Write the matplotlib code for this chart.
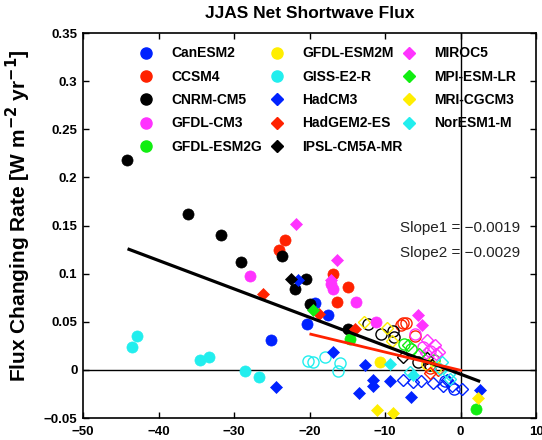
import matplotlib
matplotlib.use("Agg")
import matplotlib.pyplot as plt
from matplotlib.lines import Line2D
import numpy as np

plt.rcParams['font.family'] = ['Liberation Sans', 'DejaVu Sans']

# ---------------- data ----------------
models = ['CanESM2', 'CCSM4', 'CNRM-CM5', 'GFDL-CM3', 'GFDL-ESM2G',
          'GFDL-ESM2M', 'GISS-E2-R', 'HadCM3', 'HadGEM2-ES', 'IPSL-CM5A-MR',
          'MIROC5', 'MPI-ESM-LR', 'MRI-CGCM3', 'NorESM1-M']
colors = ['#0022ff', '#ff2200', '#000000', '#ff33ff', '#11ee11',
          '#ffee00', '#22eeee', '#0022ff', '#ff2200', '#000000',
          '#ff33ff', '#11ee11', '#ffee00', '#22eeee']
markers = ['o', 'o', 'o', 'o', 'o', 'o', 'o',
           'D', 'D', 'D', 'D', 'D', 'D', 'D']

# filled symbols (first set)
canesm2_filled = [(-25.1, 0.031), (-19.3, 0.069), (-17.5, 0.057), (-20.3, 0.048)]
ccsm4_filled = [(-23.25, 0.135), (-24.0, 0.125), (-16.85, 0.100), (-14.9, 0.086), (-16.3, 0.071)]
cnrm_filled = [(-44.2, 0.218), (-36.05, 0.1615), (-31.7, 0.140), (-29.1, 0.112), (-23.6, 0.1185),
               (-20.5, 0.094), (-21.9, 0.084), (-19.9, 0.068), (-14.9, 0.042)]
gfdlcm3_filled = [(-27.9, 0.098), (-16.9, 0.084), (-13.8, 0.071), (-11.2, 0.050), (-17.1, 0.089)]
gfdlesm2g_filled = [(-14.7, 0.032), (2.1, -0.041)]
gfdlesm2m_filled = [(-10.7, 0.008)]
giss_filled = [(-43.55, 0.024), (-42.9, 0.035), (-34.5, 0.0105), (-33.3, 0.0135),
               (-28.5, -0.0007), (-26.65, -0.007)]
hadcm3_filled = [(-24.4, -0.018), (-21.5, 0.093), (-16.85, 0.019), (-12.65, 0.005), (-11.6, -0.010),
                 (-11.55, -0.017), (-13.4, -0.024), (-9.35, -0.012), (-6.5, -0.028), (2.6, -0.021)]
hadgem2_filled = [(-26.2, 0.079), (-18.8, 0.058), (-14.0, 0.042)]
ipsl_filled = [(-22.4, 0.094)]
miroc5_filled = [(-21.8, 0.152), (-16.4, 0.114), (-17.2, 0.093), (-5.6, 0.057), (-5.15, 0.047)]
mpi_filled = [(-19.6, 0.062)]
mri_filled = [(-11.0, -0.0415), (-8.9, -0.0445), (2.35, -0.0295)]
noresm_filled = [(-9.35, 0.006), (-6.25, -0.005)]

# open symbols (second set)
canesm2_open = [(-0.8, -0.020), (-2.0, -0.012)]
ccsm4_open = [(-7.9, 0.047), (-7.6, 0.049), (-7.2, 0.049), (-6.0, 0.035), (-4.0, 0.002)]
cnrm_open = [(-12.3, 0.048), (-10.5, 0.037), (-8.9, 0.040), (-8.8, 0.034), (-5.6, 0.008), (-4.0, 0.005)]
gfdlcm3_open = [(-6.0, 0.037), (-5.0, 0.024), (-4.0, 0.020)]
gfdlesm2g_open = [(-7.5, 0.027), (-6.5, 0.022), (-3.5, 0.010)]
gfdlesm2m_open = [(-4.5, 0.006), (-3.3, 0.003)]
giss_open = [(-20.15, 0.0097), (-19.5, 0.0085), (-17.95, 0.0138), (-16.0, 0.007), (-16.2, -0.0007)]
hadcm3_open = [(-7.6, -0.0105), (-6.3, -0.013), (-5.2, -0.012), (-3.6, -0.014), (-2.3, -0.017),
               (-1.1, -0.017), (0.2, -0.020), (-1.8, -0.010)]
hadgem2_open = [(-4.0, -0.0035), (-3.0, 0.000)]
ipsl_open = [(-7.6, 0.013), (-4.5, 0.012)]
miroc5_open = [(-4.5, 0.0315), (-3.4, 0.026), (-2.8, 0.019), (-4.6, 0.018), (-3.2, 0.017)]
mpi_open = [(-7.0, 0.026), (-5.5, 0.016)]
mri_open = [(-12.8, 0.050), (-9.8, 0.044), (-9.1, 0.030)]
noresm_open = [(-2.7, 0.001), (-1.4, -0.009), (-2.5, 0.008), (-1.5, -0.004), (-6.7, -0.002)]

filled_sets = [canesm2_filled, ccsm4_filled, cnrm_filled, gfdlcm3_filled, gfdlesm2g_filled,
               gfdlesm2m_filled, giss_filled, hadcm3_filled, hadgem2_filled, ipsl_filled,
               miroc5_filled, mpi_filled, mri_filled, noresm_filled]
open_sets = [canesm2_open, ccsm4_open, cnrm_open, gfdlcm3_open, gfdlesm2g_open,
             gfdlesm2m_open, giss_open, hadcm3_open, hadgem2_open, ipsl_open,
             miroc5_open, mpi_open, mri_open, noresm_open]

# regression lines (endpoints)
fit2_x = [-44.1, 2.6]
fit2_y = [0.1258, -0.0121]
fit1_x = [-20.0, 0.2]
fit1_y = [0.0374, -0.0008]
slope_labels = ['Slope1 = \u22120.0019', 'Slope2 = \u22120.0029']
slope_pos_x = [-8.0, -8.0]
slope_pos_y = [0.1476, 0.1216]

xticks = [-50, -40, -30, -20, -10, 0, 10]
yticks = [-0.05, 0, 0.05, 0.1, 0.15, 0.2, 0.25, 0.3, 0.35]

# ---------------- plot ----------------
fig = plt.figure(figsize=(5.42, 4.40), dpi=100)
ax = fig.add_axes([83 / 542, 22 / 440, 453 / 542, 385 / 440])

ax.axhline(0, color='black', lw=1.0, zorder=1)
ax.axvline(0, color='black', lw=1.0, zorder=1)

ms_o = 8.0
ms_d = 6.0
for pts, c, m in zip(open_sets, colors, markers):
    if pts:
        xs, ys = zip(*pts)
        ax.plot(xs, ys, ls='none', marker=m, ms=ms_o if m == 'o' else ms_d,
                mfc='none', mec=c, mew=1.0, zorder=2)
for pts, c, m in zip(filled_sets, colors, markers):
    if pts:
        xs, ys = zip(*pts)
        ax.plot(xs, ys, ls='none', marker=m, ms=ms_o if m == 'o' else ms_d,
                mfc=c, mec=c, mew=0.5, zorder=3)

ax.plot(fit2_x, fit2_y, color='black', lw=2.3, zorder=4, solid_capstyle='butt')
ax.plot(fit1_x, fit1_y, color='#ff2200', lw=2.0, zorder=4, solid_capstyle='butt')

for t, x, y in zip(slope_labels, slope_pos_x, slope_pos_y):
    ax.text(x, y, t, ha='left', va='center', fontsize=11, color='#222222', zorder=5)

ax.set_xlim(-50, 10)
ax.set_ylim(-0.05, 0.35)
ax.set_xticks(xticks)
ax.set_yticks(yticks)
ax.set_xticklabels([f'{v:g}'.replace('-', '\u2212') for v in xticks], fontweight='bold', fontsize=9.5)
ax.set_yticklabels([f'{v:g}'.replace('-', '\u2212') for v in yticks], fontweight='bold', fontsize=9.5)
ax.tick_params(direction='in', top=True, right=True, length=4, width=1.0, pad=4)
ax.tick_params(axis='x', pad=6)
for s in ax.spines.values():
    s.set_linewidth(1.2)

ax.set_title('JJAS Net Shortwave Flux', fontweight='bold', fontsize=12.5, pad=11)
ax.set_ylabel('Flux Changing Rate [W m$^{\\mathbf{-2}}$ yr$^{\\mathbf{-1}}$]',
              fontweight='bold', fontsize=15)
ax.yaxis.set_label_coords(-0.11, 0.525)

# legend: three columns built as three separate legends
handles = [Line2D([], [], ls='none', marker=m, ms=ms_o if m == 'o' else ms_d,
                  mfc=c, mec=c, label=n) for n, c, m in zip(models, colors, markers)]
groups = [(0, 5), (5, 10), (10, 14)]
anchors_x = [0.1236, 0.4135, 0.7049]
legs = []
for (a, b), axx in zip(groups, anchors_x):
    leg = ax.legend(handles=handles[a:b], loc='upper left', bbox_to_anchor=(axx, 0.965),
                    frameon=False, borderpad=0, borderaxespad=0, handlelength=1.0,
                    handletextpad=1.3, labelspacing=0.67,
                    prop={'weight': 'bold', 'size': 10})
    legs.append(leg)
for leg in legs[:-1]:
    ax.add_artist(leg)

fig.savefig('out.png', dpi=100)
